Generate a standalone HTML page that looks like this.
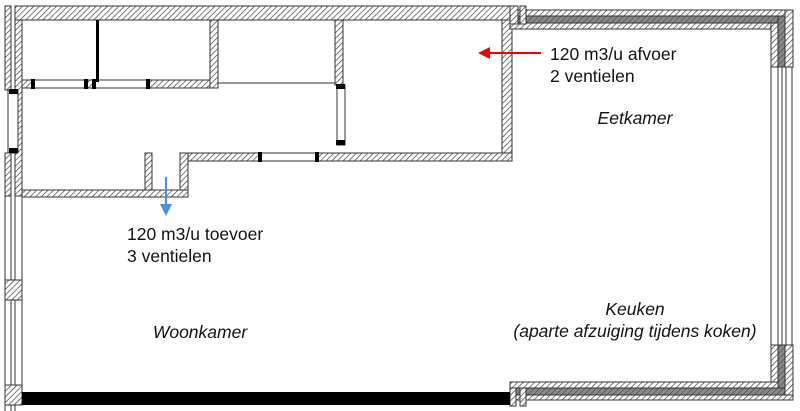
<!DOCTYPE html>
<html><head><style>body{margin:0;background:#fff}svg{display:block}text{font-family:"Liberation Sans",Calibri,sans-serif;fill:#111}</style></head><body>
<svg width="800" height="411" viewBox="0 0 800 411" xmlns="http://www.w3.org/2000/svg">
<defs>
<pattern id="h" width="4" height="4" patternUnits="userSpaceOnUse" patternTransform="rotate(45)"><rect width="4" height="4" fill="#fff"/><line x1="0" y1="0" x2="0" y2="4" stroke="#333" stroke-width="1.3"/></pattern>
<pattern id="d" width="4" height="4" patternUnits="userSpaceOnUse" patternTransform="rotate(45)"><rect width="4" height="4" fill="#888"/><line x1="0" y1="0" x2="0" y2="4" stroke="#444" stroke-width="1.2"/></pattern>
<marker id="ab" markerWidth="6" markerHeight="6" refX="3" refY="3" orient="auto"><path d="M0,0L6,3L0,6z" fill="#4a90d9"/></marker>
<marker id="ar" markerWidth="6" markerHeight="6" refX="3" refY="3" orient="auto"><path d="M0,0L6,3L0,6z" fill="#e00"/></marker>
</defs>
<g stroke="#333" stroke-width="1">
<rect x="5" y="6" width="6" height="84" fill="url(#h)"/>
<rect x="15" y="6" width="7" height="190" fill="url(#h)"/>
<rect x="8" y="90" width="10" height="63" fill="#fff"/>
<rect x="5" y="153" width="6" height="43" fill="url(#h)"/>
<line x1="5" y1="196" x2="5" y2="411"/><line x1="11" y1="196" x2="11" y2="411"/><line x1="15" y1="196" x2="15" y2="411"/><line x1="22" y1="196" x2="22" y2="392"/>
<rect x="5" y="280" width="17" height="20" fill="url(#h)"/>
<rect x="5" y="385" width="17" height="20" fill="url(#h)"/>
<rect x="15" y="6" width="497" height="14" fill="url(#h)"/>
<rect x="22" y="80" width="196" height="8" fill="url(#h)"/>
<rect x="210" y="20" width="8" height="68" fill="url(#h)"/>
<rect x="33" y="80" width="53" height="8" fill="#fff"/>
<rect x="95" y="80" width="53" height="8" fill="#fff"/>
<line x1="218" y1="83" x2="336" y2="83"/>
<rect x="335" y="20" width="8" height="65" fill="url(#h)"/>
<rect x="337" y="85" width="8" height="60" fill="#fff"/>
<rect x="502" y="20" width="10" height="141" fill="url(#h)"/>
<rect x="180" y="153" width="332" height="8" fill="url(#h)"/>
<rect x="260" y="153" width="57" height="8" fill="#fff"/>
<rect x="180" y="153" width="8" height="44" fill="url(#h)"/>
<rect x="145" y="153" width="7" height="37" fill="url(#h)"/>
<rect x="22" y="190" width="166" height="7" fill="url(#h)"/>
<rect x="510" y="10" width="283" height="6" fill="url(#h)"/>
<rect x="510" y="16" width="275" height="7" fill="url(#d)"/>
<rect x="510" y="23" width="268" height="6" fill="url(#h)"/>
<rect x="771" y="23" width="7" height="44" fill="url(#h)"/>
<rect x="778" y="16" width="7" height="51" fill="url(#d)"/>
<rect x="785" y="10" width="8" height="57" fill="url(#h)"/>
<line x1="771" y1="67" x2="771" y2="345"/><line x1="778" y1="67" x2="778" y2="345"/><line x1="782" y1="67" x2="782" y2="345"/><line x1="786" y1="67" x2="786" y2="345"/><line x1="792" y1="67" x2="792" y2="345"/>
<rect x="771" y="345" width="7" height="38" fill="url(#h)"/>
<rect x="778" y="345" width="7" height="50" fill="url(#d)"/>
<rect x="785" y="345" width="8" height="55" fill="url(#h)"/>
<rect x="510" y="382" width="268" height="6" fill="url(#h)"/>
<rect x="510" y="388" width="275" height="7" fill="url(#d)"/>
<rect x="510" y="395" width="283" height="5" fill="url(#h)"/>
<rect x="510" y="6" width="8" height="18" fill="url(#h)"/>
<rect x="520" y="6" width="6" height="18" fill="url(#h)"/>
<rect x="510" y="388" width="6" height="18" fill="url(#h)"/>
<rect x="520" y="388" width="6" height="18" fill="url(#h)"/>
</g>
<g fill="#000">
<rect x="96" y="20" width="3" height="62"/>
<rect x="31" y="79" width="4" height="10"/><rect x="84" y="79" width="4" height="10"/><rect x="92" y="79" width="4" height="10"/><rect x="146" y="79" width="4" height="10"/>
<rect x="9" y="89" width="9" height="5"/><rect x="9" y="148" width="9" height="5"/>
<rect x="336" y="84" width="9" height="5"/><rect x="336" y="140" width="9" height="5"/>
<rect x="258" y="152" width="4" height="10"/><rect x="315" y="152" width="4" height="10"/>
<rect x="22" y="392" width="488" height="13"/>
</g>
<line x1="166" y1="177" x2="166" y2="210" stroke="#4a90d9" stroke-width="2" marker-end="url(#ab)"/>
<line x1="541" y1="53" x2="484" y2="53" stroke="#e00" stroke-width="2" marker-end="url(#ar)"/>
<g font-size="17.5">
<text x="550" y="60">120 m3/u afvoer</text>
<text x="550" y="82">2 ventielen</text>
<text x="635" y="124" text-anchor="middle" font-style="italic">Eetkamer</text>
<text x="127" y="240">120 m3/u toevoer</text>
<text x="127" y="262">3 ventielen</text>
<text x="200" y="338" text-anchor="middle" font-style="italic">Woonkamer</text>
<text x="635" y="315" text-anchor="middle" font-style="italic">Keuken</text>
<text x="635" y="337" text-anchor="middle" font-style="italic">(aparte afzuiging tijdens koken)</text>
</g>
</svg>
</body></html>
